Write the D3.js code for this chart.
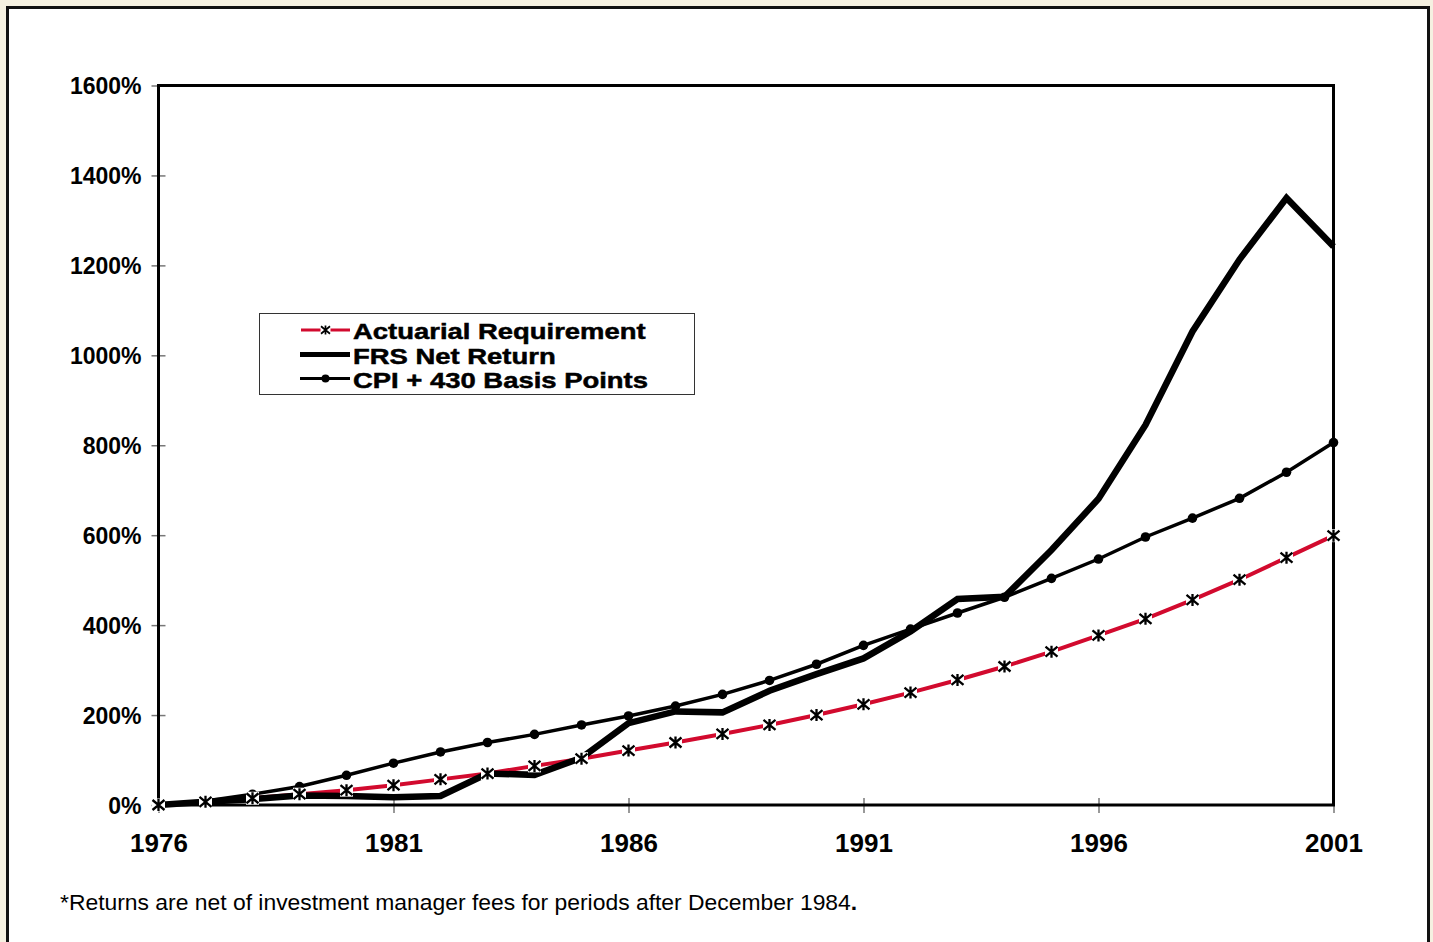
<!DOCTYPE html>
<html>
<head>
<meta charset="utf-8">
<script src="https://cdn.jsdelivr.net/npm/d3@7"></script>
<style>
  html, body { margin: 0; padding: 0; background: #f5f1e1; }
  svg { display: block; }
  text { font-family: "Liberation Sans", Arial, Helvetica, sans-serif; }
</style>
</head>
<body>
<svg id="chart" width="1433" height="942"></svg>
<script>
// Cumulative growth since 1976 (percent)
const years = [1976, 1977, 1978, 1979, 1980, 1981, 1982, 1983, 1984, 1985, 1986, 1987, 1988,
               1989, 1990, 1991, 1992, 1993, 1994, 1995, 1996, 1997, 1998, 1999, 2000, 2001];
const actuarial = [0, 7, 15, 24, 33, 44, 57, 70, 87, 103, 121, 139, 158,
                   178, 200, 224, 250, 278, 308, 341, 377, 414, 456, 501, 550, 599];
const frsNet = [0, 7, 13, 21, 20, 17, 20, 70, 67, 105, 182, 208, 206,
                254, 291, 326, 386, 458, 463, 567, 681, 845, 1053, 1213, 1350, 1242];
const cpiPlus = [0, 9, 24, 41, 66, 93, 118, 139, 157, 178, 198, 220, 246,
                 277, 313, 355, 391, 427, 462, 504, 547, 596, 638, 682, 740, 806];
const xTickYears = [1976, 1981, 1986, 1991, 1996, 2001];
const yTickValues = [0, 200, 400, 600, 800, 1000, 1200, 1400, 1600];
const legendLabels = ["Actuarial Requirement", "FRS Net Return", "CPI + 430 Basis Points"];
const footnote = "*Returns are net of investment manager fees for periods after December 1984";

(function () {
  const svg = d3.select("#chart");
  const RED = "#d20a2e";

  // outer frame
  svg.append("rect").attr("x", 0).attr("y", 0).attr("width", 1433).attr("height", 942).attr("fill", "#f5f1e1");
  svg.append("rect").attr("x", 7.5).attr("y", 7.5).attr("width", 1421).attr("height", 960)
    .attr("fill", "#fff").attr("stroke", "#111").attr("stroke-width", 3);

  const plotL = 158.5, plotR = 1333.5, plotT = 85.5, plotB = 805;
  const x = d3.scaleLinear().domain([1976, 2001]).range([plotL, plotR]);
  const y = d3.scaleLinear().domain([0, 1600]).range([plotB, plotT]);

  // axes with ticks crossing the frame
  const yAxis = d3.axisLeft(y).tickValues(yTickValues).tickSize(0).tickFormat(d => d + "%");
  const gy = svg.append("g").attr("transform", `translate(${plotL},0)`).call(yAxis);
  gy.select(".domain").remove();
  gy.selectAll("text").attr("x", -17).attr("dy", "0.36em")
    .style("font-size", "23px").style("font-weight", "bold").attr("fill", "#000");
  gy.selectAll(".tick").append("line").attr("x1", -7).attr("x2", 7)
    .attr("stroke", "#777").attr("stroke-width", 1.5);

  const xAxis = d3.axisBottom(x).tickValues(xTickYears).tickSize(0).tickFormat(d3.format("d"));
  const gx = svg.append("g").attr("transform", `translate(0,${plotB})`).call(xAxis);
  gx.select(".domain").remove();
  gx.selectAll("text").attr("y", 47).attr("dy", 0)
    .style("font-size", "26px").style("font-weight", "bold").attr("fill", "#000");
  gx.selectAll(".tick").append("line").attr("y1", -7).attr("y2", 8)
    .attr("stroke", "#777").attr("stroke-width", 1.5);

  // plot frame
  svg.append("rect").attr("x", plotL).attr("y", plotT).attr("width", plotR - plotL).attr("height", plotB - plotT)
    .attr("fill", "none").attr("stroke", "#000").attr("stroke-width", 3);

  const line = d3.line().x((d, i) => x(years[i])).y(d => y(d));

  svg.append("path").datum(actuarial).attr("d", line)
    .attr("fill", "none").attr("stroke", RED).attr("stroke-width", 4);
  svg.append("path").datum(frsNet).attr("d", line)
    .attr("fill", "none").attr("stroke", "#000").attr("stroke-width", 6.5).attr("stroke-linejoin", "miter");
  svg.append("path").datum(cpiPlus).attr("d", line)
    .attr("fill", "none").attr("stroke", "#000").attr("stroke-width", 3.5);
  svg.append("g").selectAll("circle").data(cpiPlus).join("circle")
    .attr("cx", (d, i) => x(years[i])).attr("cy", d => y(d)).attr("r", 4.8).attr("fill", "#000");

  // asterisk marker on a white square
  const starPath = "M0,-6V6M-6,-5L6,5M-6,5L6,-5";
  function star(g) {
    g.append("rect").attr("x", -6.5).attr("y", -6.5).attr("width", 13).attr("height", 13).attr("fill", "#fff");
    g.append("path").attr("d", starPath).attr("stroke", "#000").attr("stroke-width", 2.3).attr("fill", "none");
  }
  svg.append("g").selectAll("g").data(actuarial).join("g")
    .attr("transform", (d, i) => `translate(${x(years[i])},${y(d)})`).each(function () { star(d3.select(this)); });

  // legend
  const lg = svg.append("g");
  lg.append("rect").attr("x", 259.5).attr("y", 313.5).attr("width", 435).attr("height", 81)
    .attr("fill", "#fff").attr("stroke", "#333").attr("stroke-width", 1);
  const rowY = [330, 354.5, 378.5];
  lg.append("line").attr("x1", 301).attr("x2", 350).attr("y1", rowY[0]).attr("y2", rowY[0])
    .attr("stroke", RED).attr("stroke-width", 3);
  const ls = lg.append("g").attr("transform", `translate(325.5,${rowY[0]})`);
  star(ls);
  ls.select("rect").attr("x", -5).attr("width", 10);
  ls.select("path").attr("transform", "scale(0.75)");
  lg.append("line").attr("x1", 300).attr("x2", 350).attr("y1", rowY[1]).attr("y2", rowY[1])
    .attr("stroke", "#000").attr("stroke-width", 5);
  lg.append("line").attr("x1", 300).attr("x2", 350).attr("y1", rowY[2]).attr("y2", rowY[2])
    .attr("stroke", "#000").attr("stroke-width", 3);
  lg.append("circle").attr("cx", 325.5).attr("cy", rowY[2]).attr("r", 4).attr("fill", "#000");

  lg.selectAll("text.lab").data(legendLabels).join("text").attr("class", "lab")
    .attr("transform", (d, i) => `translate(353,${rowY[i] + 9}) scale(1.22,1)`)
    .style("font-size", "22.5px").style("font-weight", "bold").attr("fill", "#000")
    .attr("stroke", "#000").attr("stroke-width", 0.5)
    .text(d => d);

  // footnote
  const fn = svg.append("text").attr("transform", "translate(60,910) scale(1.04,1)")
    .style("font-size", "22px").attr("fill", "#000");
  fn.append("tspan").text(footnote);
  fn.append("tspan").style("font-weight", "bold").text(".");
})();
</script>
</body>
</html>
